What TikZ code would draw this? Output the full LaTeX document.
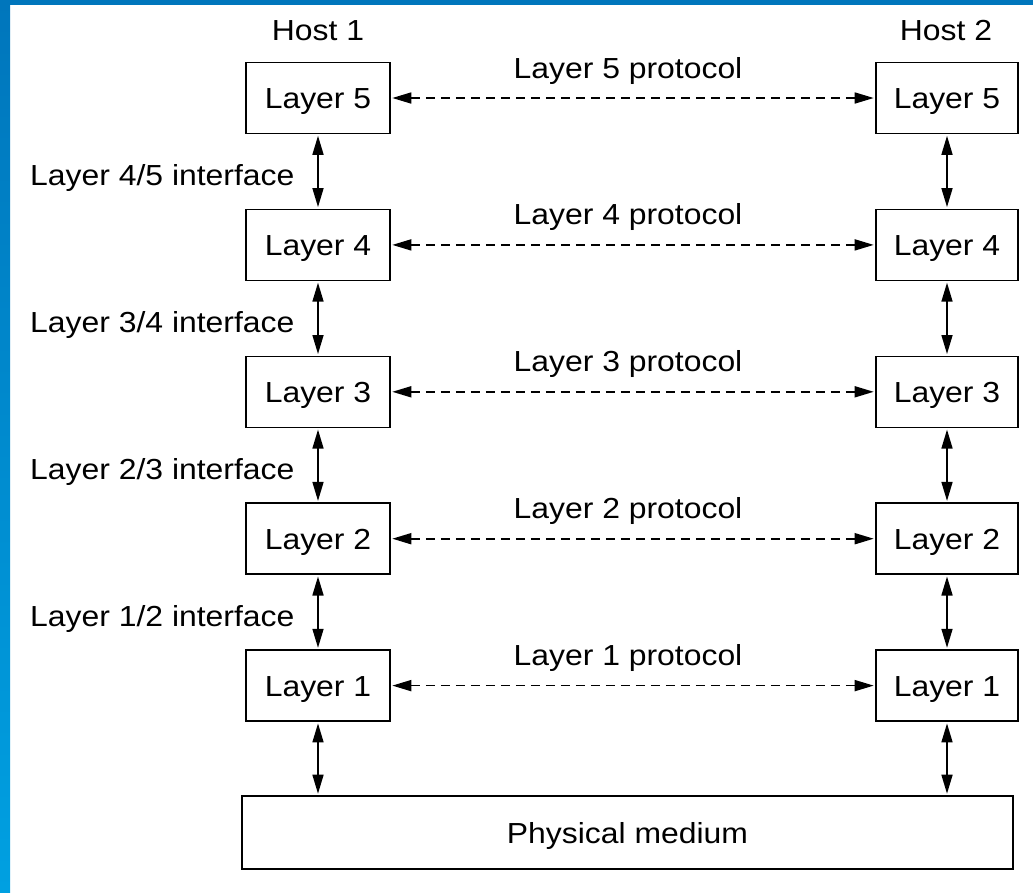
\documentclass[tikz,border=0pt]{standalone}
\usepackage{fontspec}
\setmainfont{Liberation Sans}[FakeStretch=1.1]
\usetikzlibrary{arrows.meta}
\definecolor{bluetop}{RGB}{0,118,188}
\definecolor{bluebot}{RGB}{0,160,225}
\begin{document}
\begin{tikzpicture}[x=1pt,y=-1pt,
  lbl/.style={font=\fontsize{29}{31}\selectfont, inner sep=0pt},
  lbox/.style={draw, line width=1.6pt, minimum width=144pt, minimum height=71pt,
    inner sep=0pt, text height=21pt, text depth=0pt, font=\fontsize{29}{31}\selectfont},
  biarrow/.style={line width=1.6pt,
    {Triangle[length=19pt,width=11pt]}-{Triangle[length=19pt,width=11pt]},
    shorten >=1.5pt, shorten <=1.5pt},
  proto/.style={biarrow, line width=1.7pt, dash pattern=on 9pt off 6pt}]
\useasboundingbox (0,0) rectangle (1033,892);
\fill[white] (0,0) rectangle (1033,892);
\shade[top color=bluetop, bottom color=bluebot] (0,0) rectangle (10,892);
\fill[bluetop] (0,0) rectangle (1033,5);

\node[lbl, anchor=base] (H1) at (318,40) {Host 1};
\node[lbl, anchor=base] (H2) at (946,40) {Host 2};

\foreach \k in {1,...,5} {
  \pgfmathsetmacro\yy{98+(5-\k)*146.9}
  \node[lbox] (L\k) at (318,\yy) {Layer \k};
  \node[lbox, minimum width=142pt] (R\k) at (947,\yy) {Layer \k};
  \draw[proto] (L\k) -- (R\k);
  \pgfmathsetmacro\py{\yy-20}
  \node[lbl, anchor=base] (P\k) at (628,\py) {Layer \k{} protocol};
}

\foreach \k in {1,...,4} {
  \pgfmathtruncatemacro\n{\k+1}
  \pgfmathsetmacro\iy{98+(5-\n)*146.9+73.45+14.5}
  \node[lbl, anchor=base west] (I\k) at (30,\iy) {Layer \k/\n{} interface};
  \draw[biarrow] (L\n.south) -- (L\k.north);
  \draw[biarrow] (R\n.south) -- (R\k.north);
}

\node[lbox, minimum width=771pt, minimum height=73pt] (phys) at (627.5,832.5) {Physical medium};
\draw[biarrow] (L1.south) -- (L1.south |- phys.north);
\draw[biarrow] (R1.south) -- (R1.south |- phys.north);
\end{tikzpicture}
\end{document}
